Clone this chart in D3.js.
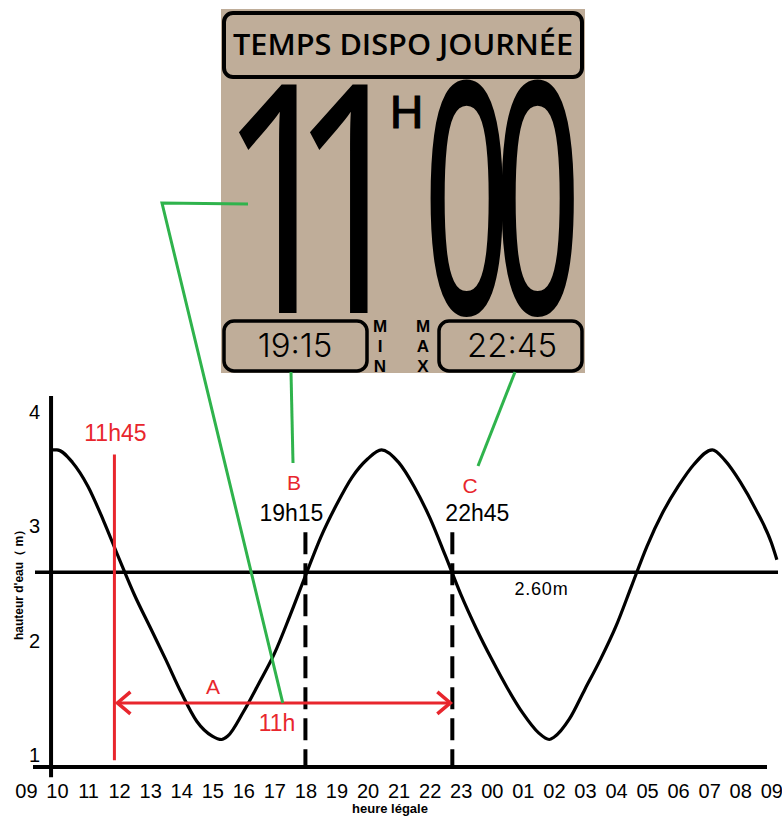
<!DOCTYPE html>
<html>
<head>
<meta charset="utf-8">
<script src="https://cdn.jsdelivr.net/npm/d3@7/dist/d3.min.js"></script>
<style>
  body { margin: 0; background: #fff; }
  svg { display: block; font-family: "Liberation Sans", Arial, sans-serif; }
  .big { font-family: "Open Sans", Roboto, sans-serif; }
</style>
</head>
<body>
<svg id="chart" width="782" height="817"></svg>
<script>
// tide curve (hour of day, 24+ = next day ; height in m)
var tideHours = [9.84, 10.0, 10.5, 11.0, 11.5, 12.0, 12.5, 13.0, 13.5, 14.0, 14.5, 15.0, 15.3,
  15.5, 16.0, 16.5, 17.0, 17.5, 18.0, 18.5, 19.0, 19.5, 20.0, 20.45,
  21.0, 21.5, 22.0, 22.5, 23.0, 23.5, 24.0, 24.5, 25.0, 25.5, 25.85,
  26.0, 26.5, 27.0, 27.5, 28.0, 28.5, 29.0, 29.5, 30.0, 30.5, 31.1,
  31.5, 32.0, 32.5, 33.0, 33.18];
var tideHeights = [3.67, 3.67, 3.56, 3.35, 3.05, 2.72, 2.40, 2.12, 1.84, 1.55, 1.30, 1.17, 1.14,
  1.17, 1.38, 1.63, 1.89, 2.22, 2.57, 2.91, 3.19, 3.43, 3.59, 3.67,
  3.56, 3.35, 3.08, 2.75, 2.41, 2.11, 1.84, 1.59, 1.37, 1.20, 1.14,
  1.16, 1.32, 1.58, 1.84, 2.13, 2.48, 2.83, 3.12, 3.35, 3.54, 3.67,
  3.58, 3.39, 3.15, 2.86, 2.71];

var hourTicks = d3.range(9, 34);
var heightTicks = [1, 2, 3, 4];
var refLevel = 2.6;
var refLabel = "2.60m";

// the three time marks : 11h45 (red), 19h15 and 22h45 (dashed)
var markLabels = ["11h45", "19h15", "22h45"];
var markHours = [11.85, 18.0, 22.73];
var spanLevel = 1.46;     // red arrow A
var spanLabel = "11h";

// panel on top
var panelTitle = "TEMPS DISPO JOURNÉE";
var dispoHours = "11";
var dispoMinutes = "00";
var minTime = "19:15";
var maxTime = "22:45";

var red = "#e8262d", green = "#2fb34c", beige = "#bfad99";

var svg = d3.select("#chart");

var x = d3.scaleLinear().domain([9, 33]).range([25.9, 771.3]);
var y = d3.scaleLinear().domain([0.9, 4.14]).range([767, 396]);
var yAxisHour = 9.81;

// axes lines
svg.append("line")
  .attr("x1", 33).attr("x2", 767)
  .attr("y1", y(0.9)).attr("y2", y(0.9))
  .attr("stroke", "#000").attr("stroke-width", 4);
svg.append("line")
  .attr("x1", x(yAxisHour)).attr("x2", x(yAxisHour))
  .attr("y1", y(4.14)).attr("y2", y(0.81))
  .attr("stroke", "#000").attr("stroke-width", 4);

var xAxis = d3.axisBottom(x).tickValues(hourTicks).tickSize(0).tickPadding(17)
  .tickFormat(function(h) { return d3.format("02")(h % 24); });
var gx = svg.append("g").attr("transform", "translate(0," + y(0.9) + ")").call(xAxis);
gx.select(".domain").remove();
gx.attr("font-family", null);
gx.selectAll("text").attr("font-size", 20).attr("fill", "#000");

var yAxis = d3.axisLeft(y).tickValues(heightTicks).tickSize(0).tickPadding(11).tickFormat(d3.format("d"));
var gy = svg.append("g").attr("transform", "translate(" + x(yAxisHour) + ",0)").call(yAxis);
gy.select(".domain").remove();
gy.attr("font-family", null);
gy.selectAll("text").attr("font-size", 20).attr("fill", "#000");

// axis titles
svg.append("text")
  .attr("transform", "translate(23," + 582 + ") rotate(-90)")
  .attr("text-anchor", "middle")
  .attr("font-size", 12).attr("font-weight", "bold")
  .text("hauteur d'eau（ m）");
svg.append("text")
  .attr("x", 390).attr("y", 813)
  .attr("text-anchor", "middle")
  .attr("font-size", 13).attr("font-weight", "bold")
  .text("heure légale");

// reference level 2.60m
svg.append("line")
  .attr("x1", 35).attr("x2", 778)
  .attr("y1", y(refLevel)).attr("y2", y(refLevel))
  .attr("stroke", "#000").attr("stroke-width", 3.5);
svg.append("text")
  .attr("x", x(25.6)).attr("y", y(refLevel) + 23)
  .attr("text-anchor", "middle").attr("font-size", 18).attr("letter-spacing", 0.8)
  .text(refLabel);

// dashed lines 19h15 / 22h45
[1, 2].forEach(function(i) {
  svg.append("line")
    .attr("x1", x(markHours[i])).attr("x2", x(markHours[i]))
    .attr("y1", y(2.95)).attr("y2", y(0.9))
    .attr("stroke", "#000").attr("stroke-width", 4)
    .attr("stroke-dasharray", "22,9");
  svg.append("text")
    .attr("x", x(markHours[i]) - (i == 1 ? 14 : -25)).attr("y", 521)
    .attr("text-anchor", "middle").attr("font-size", 23)
    .text(markLabels[i]);
});

// tide curve
var line = d3.line()
  .x(function(d) { return x(d[0]); })
  .y(function(d) { return y(d[1]); })
  .curve(d3.curveMonotoneX);
svg.append("path")
  .datum(d3.zip(tideHours, tideHeights))
  .attr("d", line)
  .attr("fill", "none").attr("stroke", "#000").attr("stroke-width", 3.2)
  .attr("stroke-linejoin", "round");

// red line 11h45
svg.append("line")
  .attr("x1", x(markHours[0])).attr("x2", x(markHours[0]))
  .attr("y1", y(3.63)).attr("y2", y(0.96))
  .attr("stroke", red).attr("stroke-width", 3);
svg.append("text")
  .attr("x", x(markHours[0]) + 1).attr("y", 441)
  .attr("text-anchor", "middle").attr("font-size", 23).attr("fill", red)
  .text(markLabels[0]);

// arrow A between 11h45 and 22h45
var ax1 = x(markHours[0]) + 3, ax2 = x(markHours[2]) - 2, ay = y(spanLevel);
svg.append("line")
  .attr("x1", ax1).attr("x2", ax2).attr("y1", ay).attr("y2", ay)
  .attr("stroke", red).attr("stroke-width", 3);
svg.append("path")
  .attr("d", "M" + (ax1 + 13) + "," + (ay - 11) + "L" + ax1 + "," + ay + "L" + (ax1 + 13) + "," + (ay + 11))
  .attr("fill", "none").attr("stroke", red).attr("stroke-width", 3.5);
svg.append("path")
  .attr("d", "M" + (ax2 - 13) + "," + (ay - 11) + "L" + ax2 + "," + ay + "L" + (ax2 - 13) + "," + (ay + 11))
  .attr("fill", "none").attr("stroke", red).attr("stroke-width", 3.5);
svg.append("text")
  .attr("x", 213).attr("y", ay - 9)
  .attr("text-anchor", "middle").attr("font-size", 21).attr("fill", red)
  .text("A");
svg.append("text")
  .attr("x", 277).attr("y", ay + 28)
  .attr("text-anchor", "middle").attr("font-size", 23).attr("fill", red)
  .text(spanLabel);
svg.append("text")
  .attr("x", 294).attr("y", 490)
  .attr("text-anchor", "middle").attr("font-size", 21).attr("fill", red)
  .text("B");
svg.append("text")
  .attr("x", 470).attr("y", 493)
  .attr("text-anchor", "middle").attr("font-size", 21).attr("fill", red)
  .text("C");

// ---- panel ----
var panel = svg.append("g");
panel.append("rect")
  .attr("x", 221).attr("y", 9).attr("width", 364).attr("height", 364)
  .attr("fill", beige);
panel.append("rect")
  .attr("x", 224).attr("y", 13).attr("width", 358).attr("height", 64).attr("rx", 9)
  .attr("fill", "none").attr("stroke", "#000").attr("stroke-width", 4);
panel.append("text")
  .attr("x", 233).attr("y", 55)
  .attr("font-family", "Open Sans, Lato, sans-serif").attr("font-weight", 600).attr("font-size", 28)
  .attr("textLength", 340).attr("lengthAdjust", "spacingAndGlyphs")
  .text(panelTitle);

// big digits, one text per digit, squeezed horizontally
dispoHours.split("").forEach(function(c, i) {
  panel.append("text")
    .attr("class", "big")
    .attr("transform", "translate(" + (219 + i * 71) + ",313) scale(0.69,1)")
    .style("font-size", "320px").style("font-weight", 400)
    .text(c);
});
panel.append("text")
  .attr("x", 390).attr("y", 128)
  .style("font-size", "46px")
  .attr("stroke", "#000").attr("stroke-width", 1.2)
  .text("H");
dispoMinutes.split("").forEach(function(c, i) {
  panel.append("text")
    .attr("class", "big")
    .attr("transform", "translate(" + (424 + i * 71) + ",312) scale(0.47,1)")
    .style("font-size", "318px").style("font-weight", 400)
    .attr("stroke", "#000").attr("stroke-width", 4)
    .text(c);
});

[[224, minTime, 295], [439, maxTime, 512]].forEach(function(b) {
  panel.append("rect")
    .attr("x", b[0]).attr("y", 321).attr("width", 143).attr("height", 50).attr("rx", 10)
    .attr("fill", "none").attr("stroke", "#000").attr("stroke-width", 3.5);
  panel.append("text")
    .attr("x", b[2]).attr("y", 357)
    .attr("text-anchor", "middle")
    .attr("font-family", "Inter, Lato, sans-serif").attr("font-weight", 300).attr("font-size", 33)
    .text(b[1]);
});
[[380, "MIN"], [423, "MAX"]].forEach(function(m) {
  m[1].split("").forEach(function(c, i) {
    panel.append("text")
      .attr("x", m[0]).attr("y", 332 + i * 20)
      .attr("text-anchor", "middle")
      .attr("font-weight", "bold").attr("font-size", 17)
      .text(c);
  });
});

// green connectors
svg.append("path")
  .attr("d", "M248,204L162,203L" + x(17.27) + "," + ay)
  .attr("fill", "none").attr("stroke", green).attr("stroke-width", 3);
svg.append("line")
  .attr("x1", 291).attr("y1", 372).attr("x2", 293).attr("y2", 463)
  .attr("stroke", green).attr("stroke-width", 3);
svg.append("line")
  .attr("x1", 515).attr("y1", 372).attr("x2", 478).attr("y2", 466)
  .attr("stroke", green).attr("stroke-width", 3);
</script>
</body>
</html>
